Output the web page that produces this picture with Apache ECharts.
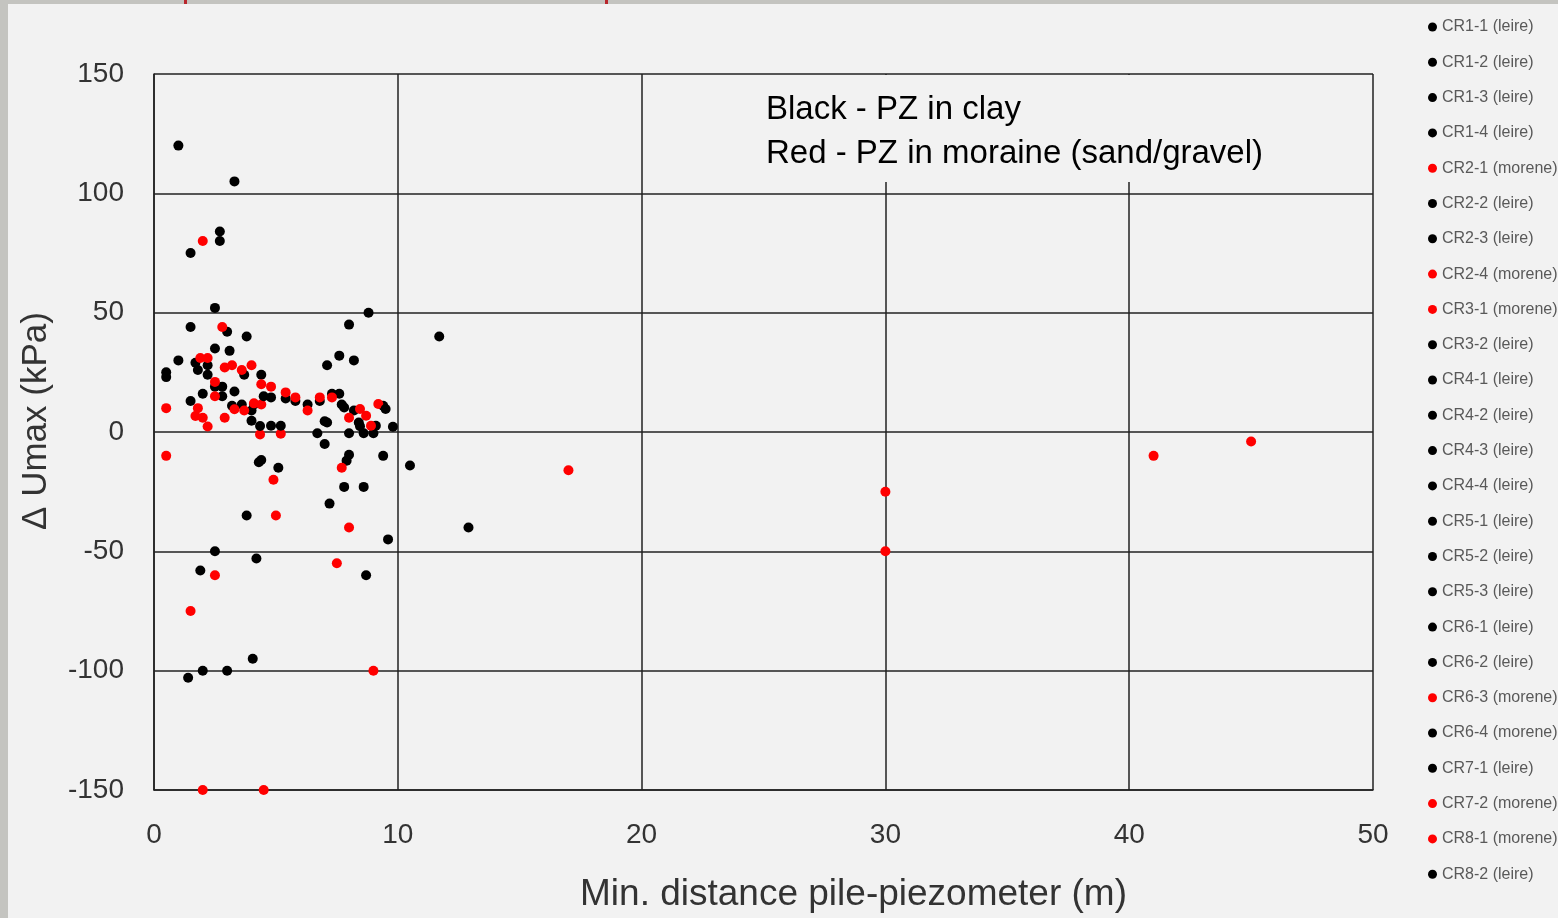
<!DOCTYPE html>
<html>
<head>
<meta charset="utf-8">
<script src="https://cdn.jsdelivr.net/npm/echarts@6/dist/echarts.min.js"></script>
<style>
html,body{margin:0;padding:0;background:#f2f2f2;}
#chart{width:1558px;height:918px;}
</style>
</head>
<body>
<div id="chart"></div>
<script>
// ---- data (x = min. distance pile-piezometer [m], y = ΔUmax [kPa]) ----
const seriesNames = ["CR1-1 (leire)","CR1-2 (leire)","CR1-3 (leire)","CR1-4 (leire)","CR2-1 (morene)","CR2-2 (leire)","CR2-3 (leire)","CR2-4 (morene)","CR3-1 (morene)","CR3-2 (leire)","CR4-1 (leire)","CR4-2 (leire)","CR4-3 (leire)","CR4-4 (leire)","CR5-1 (leire)","CR5-2 (leire)","CR5-3 (leire)","CR6-1 (leire)","CR6-2 (leire)","CR6-3 (morene)","CR6-4 (morene)","CR7-1 (leire)","CR7-2 (morene)","CR8-1 (morene)","CR8-2 (leire)"];
const seriesSoil = ["clay","clay","clay","clay","moraine","clay","clay","moraine","moraine","clay","clay","clay","clay","clay","clay","clay","clay","clay","clay","moraine","clay","clay","moraine","moraine","clay"];

const cr1_1 = [[1.0,120],[3.3,105],[2.7,84],[2.7,80],[1.5,75]];
const cr1_2 = [[2.5,52],[1.5,44],[3.0,42],[3.8,40],[2.5,35]];
const cr1_3 = [[3.1,34],[1.0,30],[1.7,29],[1.8,26],[2.2,28]];
const cr1_4 = [[2.2,24],[0.5,25],[0.5,23],[3.7,24],[4.4,24]];
const cr2_1 = [[2.0,80],[2.8,44],[1.9,31],[2.2,31],[2.9,27],[3.2,28],[3.6,26],[4.0,28]];
const cr2_2 = [[2.5,19],[2.8,19],[2.8,15],[2.0,16],[3.3,17]];
const cr2_3 = [[1.5,13],[3.2,11],[3.6,11.5],[4.0,9],[4.1,11.5]];
const cr2_4 = [[2.5,21],[4.4,20],[4.8,19],[2.5,15],[0.5,10],[1.8,10],[1.7,6.7],[2.0,6]];
const cr3_1 = [[2.2,2.3],[2.9,6],[3.3,9.5],[3.7,9],[4.1,12],[4.4,11.5],[4.35,-1],[5.2,-0.7]];
const cr3_2 = [[4.0,4.7],[4.35,2.5],[4.8,2.6],[5.2,2.6],[4.5,15]];
const cr4_1 = [[4.8,14.5],[5.4,14],[5.8,13],[6.3,11.5],[6.8,13]];
const cr4_2 = [[7.3,16],[7.6,16],[7.7,11.5],[7.8,10.3],[8.2,9]];
const cr4_3 = [[8.4,4],[8.45,2.4],[9.4,11],[9.1,2.6]];
const cr4_4 = [[7.0,4.5],[7.1,4],[6.7,-0.5],[7.0,-5]];
const cr5_1 = [[8.0,-0.5],[8.6,-0.5],[9.0,-0.5],[8.8,50],[8.0,45]];
const cr5_2 = [[7.6,32],[8.2,30],[7.1,28],[11.7,40]];
const cr5_3 = [[4.3,-12.7],[4.4,-11.7],[5.1,-15],[7.9,-12],[8.0,-9.5]];
const cr6_1 = [[9.4,-10],[10.5,-14],[7.8,-23],[8.6,-23]];
const cr6_2 = [[7.2,-30],[3.8,-35],[9.6,-45],[12.9,-40]];
const cr6_3 = [[5.4,16.6],[5.8,14.5],[6.3,9],[6.8,14.5],[7.3,14.5],[8.0,6],[8.45,9.6],[8.7,6.8],[8.9,2.6],[9.2,11.7]];
const cr6_4 = [[2.5,-50],[4.2,-53],[1.9,-58],[8.7,-60]];
const cr7_1 = [[4.05,-95],[2.0,-100],[3.0,-100],[1.4,-103]];
const cr7_2 = [[0.5,-10],[4.9,-20],[7.7,-15],[5.0,-35],[8.0,-40],[7.5,-55],[2.5,-60],[1.5,-75]];
const cr8_1 = [[9.0,-100],[2.0,-150],[4.5,-150],[17,-16],[30,-25],[30,-50],[41,-10],[45,-4]];
const cr8_2 = [[9.8,2.2],[9.5,9.6]];

const seriesData = [cr1_1,cr1_2,cr1_3,cr1_4,cr2_1,cr2_2,cr2_3,cr2_4,cr3_1,cr3_2,cr4_1,cr4_2,cr4_3,cr4_4,cr5_1,cr5_2,cr5_3,cr6_1,cr6_2,cr6_3,cr6_4,cr7_1,cr7_2,cr8_1,cr8_2];

const xTicks = [0,10,20,30,40,50];
const yTicks = [-150,-100,-50,0,50,100,150];
const noteLines = ["Black - PZ in clay","Red - PZ in moraine (sand/gravel)"];
const xTitle = "Min. distance pile-piezometer (m)";
const yTitle = "\u0394 Umax (kPa)";

// ---- chart ----
const colorFor = s => s === "moraine" ? "#ff0000" : "#000000";
const FONT = "Liberation Sans";
const lineStyle = {color:"#222222", width:1.5};

const chart = echarts.init(document.getElementById("chart"), null, {renderer:"canvas"});
chart.setOption({
  backgroundColor:"#f2f2f2",
  animation:false,
  grid:{left:154, right:185, top:74, bottom:126},
  xAxis:{
    type:"value", min:xTicks[0], max:xTicks[xTicks.length-1], interval:10,
    name:xTitle, nameLocation:"middle", nameGap:86,
    nameTextStyle:{fontFamily:FONT, fontSize:37, color:"#333333", padding:[0,0,0,180]},
    axisLine:{show:true, onZero:false, lineStyle:lineStyle},
    axisTick:{show:false},
    axisLabel:{fontFamily:FONT, fontSize:28, color:"#333333", margin:31},
    splitLine:{show:true, lineStyle:lineStyle}
  },
  yAxis:{
    type:"value", min:yTicks[0], max:yTicks[yTicks.length-1], interval:50,
    name:yTitle, nameLocation:"middle", nameGap:100, nameRotate:90,
    nameTextStyle:{fontFamily:FONT, fontSize:35, color:"#333333", padding:[0,0,0,22]},
    axisLine:{show:true, onZero:false, lineStyle:lineStyle},
    axisTick:{show:false},
    axisLabel:{fontFamily:FONT, fontSize:28, color:"#333333", margin:30},
    splitLine:{show:true, lineStyle:lineStyle}
  },
  legend:{
    orient:"vertical", left:1423, top:14,
    icon:"circle", itemWidth:9, itemHeight:9, itemGap:19.3,
    selectedMode:false,
    textStyle:{fontFamily:FONT, fontSize:16, lineHeight:16, color:"#595959"},
    data:seriesNames
  },
  graphic:[
    {type:"rect", left:0, top:0, z:100, shape:{width:8, height:918}, style:{fill:"#c4c4c0"}},
    {type:"rect", left:0, top:0, z:100, shape:{width:1558, height:4}, style:{fill:"#c4c4c0"}},
    {type:"rect", left:184, top:0, z:101, shape:{width:3, height:4}, style:{fill:"#b8262c"}},
    {type:"rect", left:605, top:0, z:101, shape:{width:3, height:4}, style:{fill:"#b8262c"}},
    {type:"rect", left:748, top:75, z:50, shape:{width:527, height:107}, style:{fill:"#f2f2f2"}},
    {type:"text", left:766, top:93, z:51, style:{text:noteLines[0], font:"33px '"+FONT+"'", fill:"#000"}},
    {type:"text", left:766, top:137, z:51, style:{text:noteLines[1], font:"33px '"+FONT+"'", fill:"#000"}}
  ],
  series: seriesData.map((d,i)=>({
    type:"scatter", name:seriesNames[i], data:d,
    symbol:"circle", symbolSize:10, clip:false,
    itemStyle:{color:colorFor(seriesSoil[i]), opacity:1},
    z:3
  }))
});
</script>
</body>
</html>
